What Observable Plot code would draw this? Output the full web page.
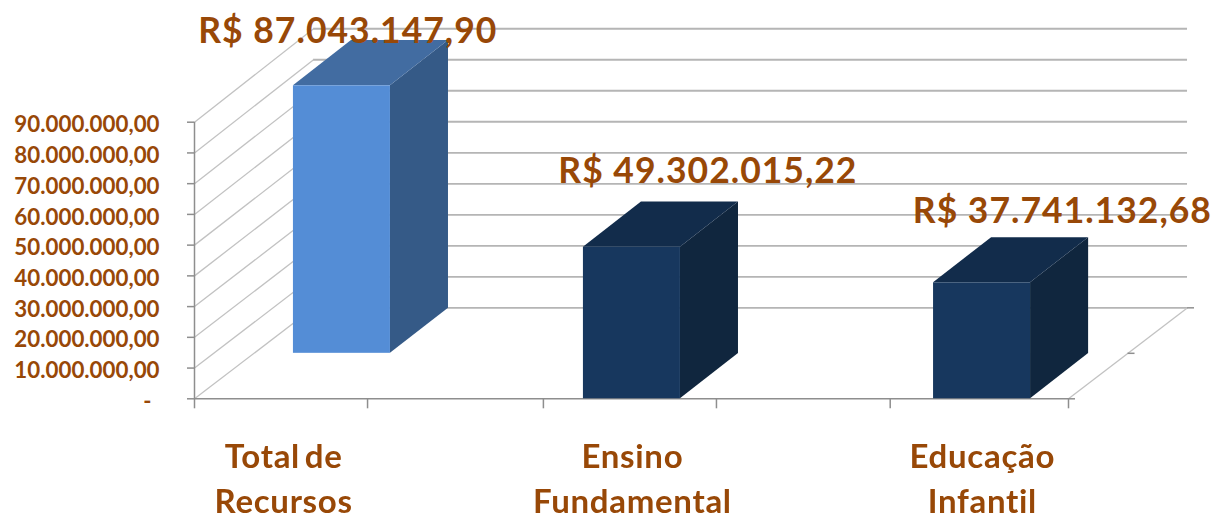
<!DOCTYPE html>
<html>
<head>
<meta charset="utf-8">
<script src="https://cdn.jsdelivr.net/npm/d3@7"></script>
<script src="https://cdn.jsdelivr.net/npm/@observablehq/plot@0.6"></script>
<style>
  html, body { margin: 0; padding: 0; background: #fff; overflow: hidden; }
  svg { display: block; filter: blur(0.4px); }
  .value-label text, .value-label { letter-spacing: 1px; }
  .category-label text, .category-label { letter-spacing: 0.7px; word-spacing: -4px; }
</style>
</head>
<body>
<div id="chart"></div>
<script>
// Data
const categories = ["Total de\nRecursos", "Ensino\nFundamental", "Educação\nInfantil"];
const values = [87043147.90, 49302015.22, 37741132.68];
const valueLabels = ["R$ 87.043.147,90", "R$ 49.302.015,22", "R$ 37.741.132,68"];
const yTicks = [10e6, 20e6, 30e6, 40e6, 50e6, 60e6, 70e6, 80e6, 90e6];
const yTickLabels = ["10.000.000,00", "20.000.000,00", "30.000.000,00", "40.000.000,00", "50.000.000,00", "60.000.000,00", "70.000.000,00", "80.000.000,00", "90.000.000,00"];

// Layout in scale units (x: floor tick intervals, y: R$)
const floorTicks = [0, 0.99, 1.996, 2.986, 3.98, 5];
const barStart = [0.566, 2.225, 4.228];
const barBase = [14.8e6, 0, 0];
const barWidth = 0.555;
const barDepthX = 0.332, barDepthY = 14.7e6;
const wallDepthX = 0.681, wallDepthY = 29.6e6, wallStretch = 1.009;
const labelCenter = [0.877, 2.937, 4.965];
const labelValue = [119.6e6, 74e6, 61e6];
const categoryCenter = [0.51, 2.505, 4.507];

// Styles
const brown = "#984807";
const frontColor = ["#548dd6", "#17375e", "#17375e"];
const topColor = ["#426ca1", "#122c4b", "#122c4b"];
const sideColor = ["#355a87", "#10263e", "#10263e"];
const axisGray = "#8e8e8e", wallGray = "#c2c2c2", gridGray = "#b5b5b5";
const font = "Lato, sans-serif";

const bars = categories.map((c, i) => ({
  c, i,
  x1: barStart[i], x2: barStart[i] + barWidth,
  y1: barBase[i], y2: barBase[i] + values[i]
}));
const sidePoints = bars.flatMap(b => [
  {i: b.i, x: b.x2, y1: b.y1, y2: b.y2},
  {i: b.i, x: b.x2 + barDepthX, y1: b.y1 + barDepthY, y2: b.y2 + barDepthY}
]);
const topPoints = bars.flatMap(b => [
  {i: b.i, y: b.y2, x1: b.x1, x2: b.x2},
  {i: b.i, y: b.y2 + barDepthY, x1: b.x1 + barDepthX, x2: b.x2 + barDepthX}
]);
const wallTicks = [0, ...yTicks];
const backY = v => v * wallStretch + wallDepthY;

const plot = Plot.plot({
  width: 1216, height: 515,
  marginLeft: 194, marginRight: 148, marginTop: 121.7, marginBottom: 116.7,
  style: {background: "#fff", fontFamily: font, overflow: "visible"},
  x: {domain: [0, 5], axis: null},
  y: {domain: [0, 90e6], axis: null},
  marks: [
    // back wall gridlines
    Plot.ruleY(wallTicks, {y: backY, x1: wallDepthX, x2: 5 + wallDepthX, stroke: gridGray, strokeWidth: 1.8}),
    // left wall diagonals
    Plot.link(wallTicks, {x1: 0, y1: d => d, x2: wallDepthX, y2: backY, stroke: wallGray, strokeWidth: 1.3}),
    // floor right diagonal
    Plot.link([0], {x1: 5, y1: 0, x2: 5 + wallDepthX, y2: backY(0), stroke: wallGray, strokeWidth: 1.3}),
    // floor right ticks
    Plot.ruleY([0, 0.5, 1], {
      y: t => backY(0) * t,
      x1: t => 5 + wallDepthX * t,
      x2: t => 5 + wallDepthX * t + 0.04,
      stroke: axisGray, strokeWidth: 1.5
    }),
    // axes
    Plot.ruleX([0], {y1: 0, y2: 90e6, stroke: axisGray, strokeWidth: 1.5}),
    Plot.ruleY([0], {x1: 0, x2: 5, stroke: axisGray, strokeWidth: 1.5}),
    Plot.axisX({ticks: floorTicks, tickSize: 10, tickFormat: () => "", stroke: axisGray, strokeWidth: 1.5, label: null}),
    Plot.axisY({ticks: wallTicks, tickSize: 7, tickFormat: () => "", stroke: axisGray, strokeWidth: 1.5, label: null}),
    Plot.axisY({ticks: yTicks, tickSize: 0, tickPadding: 35, dy: 3, label: null,
      tickFormat: v => yTickLabels[yTicks.indexOf(v)], color: brown, fontSize: 22.3, fontWeight: 700}),
    Plot.axisY({ticks: [0], tickSize: 0, tickPadding: 43, dy: 3.5, label: null,
      tickFormat: () => "-", color: brown, fontSize: 22, fontWeight: 700}),
    // bars
    Plot.areaY(sidePoints, {x: "x", y1: "y1", y2: "y2", z: "i", fill: d => sideColor[d.i], curve: "linear"}),
    Plot.areaX(topPoints, {y: "y", x1: "x1", x2: "x2", z: "i", fill: d => topColor[d.i], curve: "linear"}),
    Plot.rect(bars, {x1: "x1", x2: "x2", y1: "y1", y2: "y2", fill: d => frontColor[d.i]}),
    // value labels
    Plot.text(bars, {
      x: d => labelCenter[d.i], y: d => labelValue[d.i],
      text: d => valueLabels[d.i], className: "value-label",
      fill: brown, fontSize: 35.5, fontWeight: 700, textAnchor: "middle", lineAnchor: "middle"
    }),
    // category labels
    Plot.text(bars, {
      x: d => categoryCenter[d.i], y: 0, dy: 37, className: "category-label",
      text: "c",
      fill: brown, fontSize: 33, fontWeight: 700, textAnchor: "middle", lineAnchor: "top", lineHeight: 1.36
    })
  ]
});
document.getElementById("chart").append(plot);
</script>
</body>
</html>
